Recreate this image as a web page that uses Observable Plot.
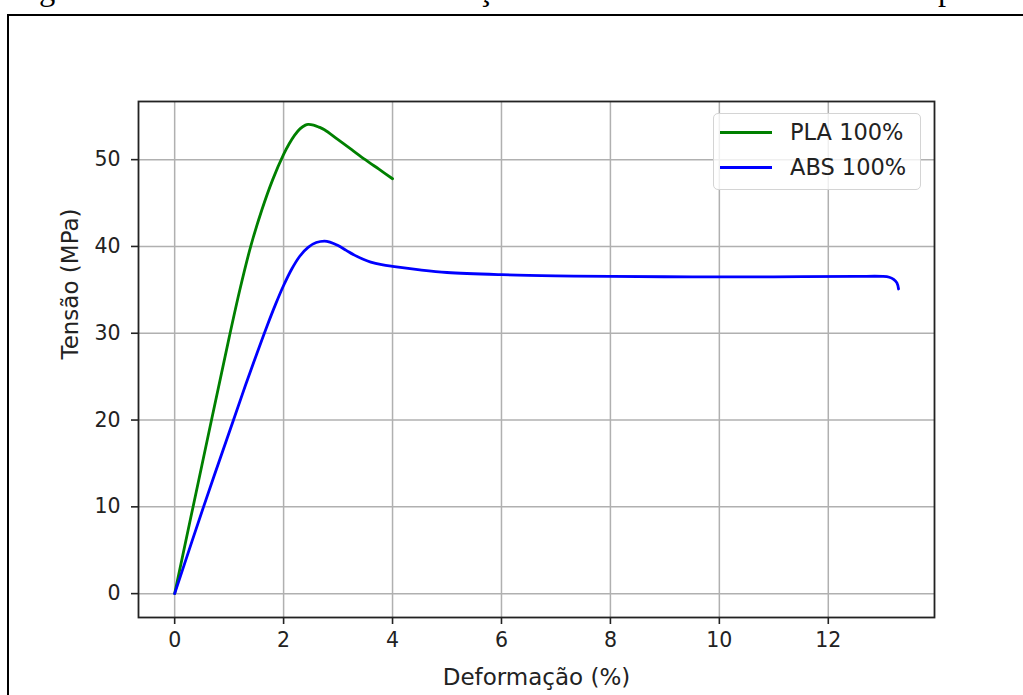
<!DOCTYPE html>
<html>
<head>
<meta charset="utf-8">
<script src="https://cdn.jsdelivr.net/npm/d3@7"></script>
<script src="https://cdn.jsdelivr.net/npm/@observablehq/plot@0.6"></script>
<style>
  html, body { margin: 0; padding: 0; background: #fff; }
  #page { position: relative; width: 1023px; height: 695px; overflow: hidden; background: #fff; }
  #caption { position: absolute; left: 12px; top: -27px; font-family: "Liberation Serif", "Times New Roman", serif; font-size: 32.5px; line-height: 32.5px; white-space: nowrap; color: #000; }
  #box { position: absolute; left: 7px; top: 14px; width: 1100px; height: 800px; border-top: 2px solid #000; border-left: 2px solid #000; }
  #chart { position: absolute; left: 0; top: 0; }
  #legend { position: absolute; left: 713px; top: 113px; width: 208px; height: 77px; box-sizing: border-box; border: 1.3px solid #d4d4d4; border-radius: 5px; background: rgba(255,255,255,0.8); font-family: "DejaVu Sans", sans-serif; font-size: 22.5px; color: #222; }
  .item { position: absolute; left: 0; height: 30px; width: 100%; }
  .swatch { position: absolute; left: 6px; width: 52px; height: 3px; }
  .lbl { position: absolute; left: 76px; line-height: 30px; }
</style>
</head>
<body>
<div id="page">
  <div id="caption"></div>
  <div id="box"></div>
  <div id="chart"></div>
  <div id="legend"></div>
</div>
<script>
// ---- data ----
const captionText = "Figura 3 – Curvas tensão x deformação características dos materiais impressos";
const xLabel = "Deformação (%)";
const yLabel = "Tensão (MPa)";
const xTicks = [0, 2, 4, 6, 8, 10, 12];
const yTicks = [0, 10, 20, 30, 40, 50];

const seriesNames = ["PLA 100%", "ABS 100%"];
const seriesColors = ["#008000", "#0000ff"];

const plaStrain = [0, 0.5, 1.0, 1.2, 1.4, 1.6, 1.8, 2.0, 2.1, 2.2, 2.3, 2.4, 2.45, 2.55, 2.65, 2.75, 3.0, 3.25, 3.5, 3.75, 4.0];
const plaStress = [0, 14.8, 29.5, 35.1, 40.1, 44.2, 47.7, 50.6, 51.8, 52.8, 53.55, 53.98, 54.06, 53.98, 53.75, 53.45, 52.3, 51.15, 50.0, 48.9, 47.8];

const absStrain = [0, 0.53, 1.08, 1.3, 1.5, 1.7, 1.85, 2.0, 2.15, 2.3, 2.45, 2.6, 2.75, 2.85, 3.0, 3.15, 3.3, 3.45, 3.6, 3.8, 4.0, 4.5, 5.0, 6.0, 7.0, 8.0, 9.5, 11.0, 12.5, 13.0, 13.12, 13.2, 13.26, 13.29];
const absStress = [0, 10, 20, 24.0, 27.5, 30.9, 33.3, 35.5, 37.4, 38.9, 39.9, 40.45, 40.62, 40.5, 40.1, 39.55, 39.0, 38.55, 38.2, 37.9, 37.7, 37.3, 37.0, 36.75, 36.62, 36.55, 36.5, 36.5, 36.55, 36.55, 36.45, 36.2, 35.8, 35.1];

// ---- build tables ----
const pla = plaStrain.map((x, i) => ({x, y: plaStress[i]}));
const abs = absStrain.map((x, i) => ({x, y: absStress[i]}));

document.getElementById("caption").textContent = captionText;

const chart = Plot.plot({
  width: 1023,
  height: 695,
  marginLeft: 138,
  marginRight: 89,
  marginTop: 101,
  marginBottom: 78,
  x: {domain: [-0.664, 13.95]},
  y: {domain: [-2.75, 56.7]},
  style: {fontFamily: "'DejaVu Sans', sans-serif", fontSize: "20.5px", color: "#222", background: "transparent"},
  marks: [
    Plot.gridX(xTicks, {stroke: "#b0b0b0", strokeOpacity: 1, strokeWidth: 1.5}),
    Plot.gridY(yTicks, {stroke: "#b0b0b0", strokeOpacity: 1, strokeWidth: 1.5}),
    Plot.line(pla, {x: "x", y: "y", stroke: seriesColors[0], strokeWidth: 2.8, curve: "catmull-rom"}),
    Plot.line(abs, {x: "x", y: "y", stroke: seriesColors[1], strokeWidth: 2.8, curve: "catmull-rom"}),
    Plot.frame({stroke: "#222", strokeWidth: 1.8}),
    Plot.axisX(xTicks, {tickSize: 7, tickPadding: 8, label: null, stroke: "#222", strokeWidth: 1.6}),
    Plot.axisY(yTicks, {tickSize: 7, tickPadding: 11, label: null, stroke: "#222", strokeWidth: 1.6}),
    Plot.text([xLabel], {frameAnchor: "bottom", lineAnchor: "bottom", dy: 67, fontSize: 23, fill: "#222"}),
    Plot.text([yLabel], {frameAnchor: "left", lineAnchor: "bottom", rotate: -90, dx: -61, fontSize: 23, fill: "#222"})
  ]
});
document.getElementById("chart").appendChild(chart);

// ---- legend ----
const legend = document.getElementById("legend");
seriesNames.forEach((name, i) => {
  const item = document.createElement("div");
  item.className = "item";
  item.style.top = (3 + i * 35) + "px";
  const sw = document.createElement("div");
  sw.className = "swatch";
  sw.style.background = seriesColors[i];
  sw.style.top = "13.5px";
  const lb = document.createElement("div");
  lb.className = "lbl";
  lb.textContent = name;
  item.appendChild(sw);
  item.appendChild(lb);
  legend.appendChild(item);
});
</script>
</body>
</html>
